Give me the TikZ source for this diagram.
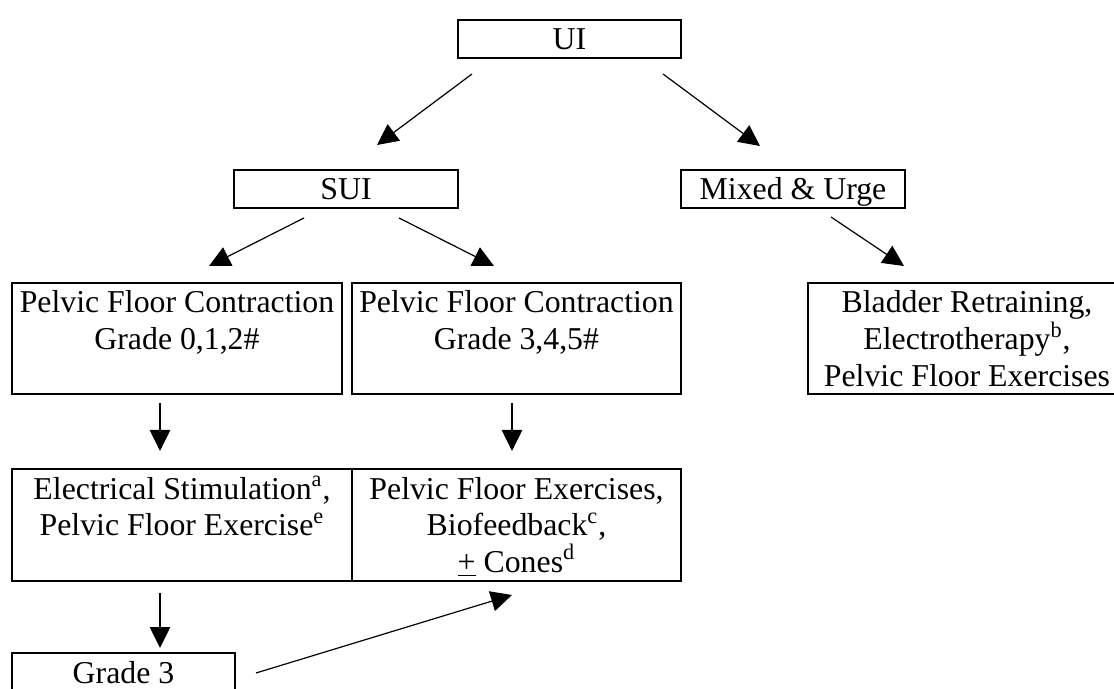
\documentclass[tikz,border=0pt]{standalone}
\usepackage{fontspec}
\setmainfont{Liberation Serif}
\usetikzlibrary{arrows.meta,calc}
\newcommand\bxtext[3]{\parbox[c][#2][t]{#1}{\centering\rule{0pt}{15pt}#3\par}}
\begin{document}
\begin{tikzpicture}[x=0.5pt,y=-0.5pt,
  flowbox/.style={draw, line width=0.85pt, inner sep=0pt, outer sep=0pt, anchor=north west,
    font=\fontsize{15.9pt}{18.35pt}\selectfont},
  arr/.style={line width=0.6pt, -{Triangle[length=10.5pt,width=10.2pt]}}]
\useasboundingbox (0,0) rectangle (1114,689);
\clip (0,0) rectangle (1114,689);
\fill[white] (0,0) rectangle (1114,689);
% boxes
\node[flowbox] (ui)   at (458,20)  {\bxtext{111.5pt}{19pt}{UI}};
\node[flowbox] (sui)  at (234,170) {\bxtext{112pt}{19pt}{SUI}};
\node[flowbox] (mix)  at (681,170) {\bxtext{112pt}{19pt}{Mixed \& Urge}};
\node[flowbox] (pfc1) at (12,283)  {\bxtext{165pt}{55.5pt}{Pelvic Floor Contraction\\Grade 0,1,2\#}};
\node[flowbox] (pfc2) at (352,283) {\bxtext{164.5pt}{55.5pt}{Pelvic Floor Contraction\\Grade 3,4,5\#}};
\node[flowbox] (blad) at (808,283) {\bxtext{159pt}{55.5pt}{Bladder Retraining,\\Electrotherapy\textsuperscript{b},\\Pelvic Floor Exercises}};
\node[flowbox] (elec) at (12,469)  {\bxtext{170pt}{56pt}{Electrical Stimulation\textsuperscript{a},\\Pelvic Floor Exercise\textsuperscript{e}}};
\node[flowbox] (pfe)  at (352,469) {\bxtext{164.5pt}{56pt}{Pelvic Floor Exercises,\\Biofeedback\textsuperscript{c},\\\underline{+} Cones\textsuperscript{d}}};
\node[flowbox] (g3)   at (12,653)  {\bxtext{111.5pt}{19pt}{Grade 3}};
% connectors
\draw[arr] ($(ui.south west)+(14,16)$) -- ($(sui.north)+(31,-25)$);
\draw[arr] ($(ui.south east)+(-18,16)$) -- ($(mix.north)+(-33,-24)$);
\draw[arr] ($(sui.south)+(-42,10)$) -- ($(pfc1.north)+(32,-17)$);
\draw[arr] ($(sui.south)+(53,10)$) -- ($(pfc2.north)+(-22.5,-17)$);
\draw[arr] ($(mix.south)+(38,9)$) -- ($(blad.north west)+(96,-17)$);
\draw[arr] ($(pfc1.south)+(-17,9)$) -- ($(elec.north)+(-22,-18)$);
\draw[arr] ($(pfc2.south)+(-4.5,9)$) -- ($(pfe.north)+(-4.5,-18)$);
\draw[arr] ($(elec.south)+(-22,12)$) -- ($(g3.north)+(36.5,-5)$);
\draw[arr] ($(g3.east)+(21,1)$) -- ($(pfe.south)+(-4.5,14)$);
\end{tikzpicture}
\end{document}
